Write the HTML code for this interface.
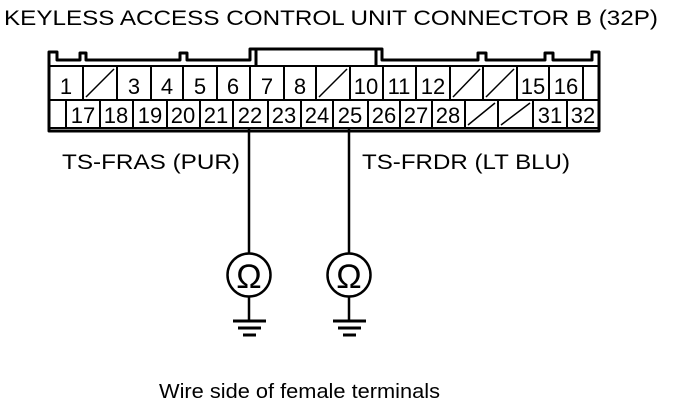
<!DOCTYPE html>
<html><head><style>
body{margin:0;background:#fff;}
svg text{font-family:"Liberation Sans",sans-serif;fill:#000;}
</style></head><body>
<svg width="688" height="410" viewBox="0 0 688 410" xmlns="http://www.w3.org/2000/svg">
<text x="4" y="25" font-size="21" textLength="654" lengthAdjust="spacingAndGlyphs">KEYLESS ACCESS CONTROL UNIT CONNECTOR B (32P)</text>
<g fill="none" stroke="#000" stroke-width="3" stroke-linejoin="round">
<path d="M49,131 L49,52 L57,52 L57,60 L80,60 L80,53 L86,53 L86,60 L180,60 L180,53 L187,53 L187,60 L250,60 L250,49 L382,49 L382,60 L478,60 L478,53 L486,53 L486,60 L545,60 L545,53 L553,53 L553,60 L592,60 L592,52 L599,52 L599,131 Z"/>
<line x1="256" y1="49" x2="256" y2="66"/>
<line x1="376" y1="49" x2="376" y2="66"/>
</g>
<g fill="none" stroke="#000" stroke-width="2">
<rect x="49" y="66" width="550" height="62"/>
<line x1="49" y1="100" x2="599" y2="100"/>
<path d="M83,66V100M117,66V100M151,66V100M183,66V100M217,66V100M250,66V100M284,66V100M316,66V100M350,66V100M383,66V100M416,66V100M450,66V100M483,66V100M517,66V100M549,66V100M583,66V100"/>
<path d="M66,100V128M100,100V128M133,100V128M167,100V128M200,100V128M233,100V128M268,100V128M301,100V128M333,100V128M368,100V128M400,100V128M432,100V128M465,100V128M498,100V128M533,100V128M567,100V128"/>
<path d="M86,97L114,69M319,97L347,69M453,97L480,69M486,97L514,69M468,125L495,103M501,125L530,103" stroke-width="1.5"/>
</g>
<g font-size="22" text-anchor="middle">
<text x="66" y="94">1</text><text x="134" y="94">3</text><text x="167" y="94">4</text>
<text x="200" y="94">5</text><text x="233" y="94">6</text><text x="267" y="94">7</text>
<text x="300" y="94">8</text><text x="366" y="94">10</text><text x="399" y="94">11</text>
<text x="433" y="94">12</text><text x="533" y="94">15</text><text x="566" y="94">16</text>
<text x="83" y="123">17</text><text x="116" y="123">18</text><text x="150" y="123">19</text>
<text x="183" y="123">20</text><text x="216" y="123">21</text><text x="250" y="123">22</text>
<text x="284" y="123">23</text><text x="317" y="123">24</text><text x="350" y="123">25</text>
<text x="384" y="123">26</text><text x="416" y="123">27</text><text x="448" y="123">28</text>
<text x="550" y="123">31</text><text x="583" y="123">32</text>
</g>
<text x="62" y="169" font-size="21" textLength="178" lengthAdjust="spacingAndGlyphs">TS-FRAS (PUR)</text>
<text x="362" y="169" font-size="21" textLength="208" lengthAdjust="spacingAndGlyphs">TS-FRDR (LT BLU)</text>
<g stroke="#000" fill="none">
<line x1="249" y1="128" x2="249" y2="253" stroke-width="2.5"/>
<line x1="349" y1="128" x2="349" y2="253" stroke-width="2.5"/>
<circle cx="249" cy="275" r="21.5" stroke-width="2.5"/>
<circle cx="349" cy="275" r="21.5" stroke-width="2.5"/>
<line x1="249" y1="297" x2="249" y2="320" stroke-width="2.5"/>
<line x1="349" y1="297" x2="349" y2="320" stroke-width="2.5"/>
<path d="M233,321H266M238,328H261M243,335H256M333,321H366M338,328H361M343,335H356" stroke-width="3"/>
</g>
<text x="249" y="288" font-size="34" text-anchor="middle">Ω</text>
<text x="349" y="288" font-size="34" text-anchor="middle">Ω</text>
<text x="159" y="398" font-size="20" textLength="281" lengthAdjust="spacingAndGlyphs">Wire side of female terminals</text>
</svg>
</body></html>
